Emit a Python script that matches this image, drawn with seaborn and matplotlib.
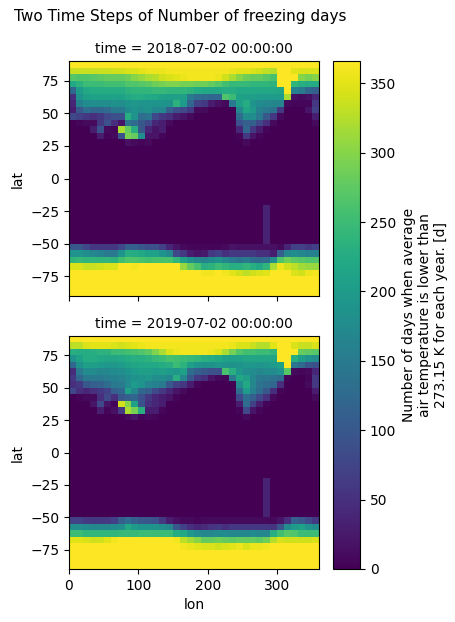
#!/usr/bin/env python3
"""Two time steps of number of freezing days, read off by hand on a 10 x 5 degree grid."""
import numpy as np
import matplotlib
matplotlib.use('Agg')
import matplotlib.pyplot as plt
import seaborn as sns

TITLE = 'Two Time Steps of Number of freezing days'
TIMES = ['2018-07-02 00:00:00', '2019-07-02 00:00:00']
CBAR_LABEL = ('Number of days when average\n'
              'air temperature is lower than\n'
              '273.15 K for each year. [d]')
LON_TICKS = [0, 100, 200, 300]
LAT_TICKS = [75, 50, 25, 0, -25, -50, -75]
CBAR_TICKS = [0, 50, 100, 150, 200, 250, 300, 350]
LON_STEP = 10
LAT_STEP = 5

ZERO = [0] * 36
FULL = [366] * 36
# thin streak near 290E seen in the tropics and south of them
STREAK = [0] * 28 + [35] + [0] * 7

# rows from 90N down to 20N, one value per 10 degrees of longitude
north_2018 = [
    FULL,
    [335, 335, 335, 335, 335, 335, 340, 340, 345, 345, 350, 355, 355, 355, 360, 360, 360, 360, 360, 360, 360, 360, 360, 355, 350, 350, 345, 340, 330, 325, 365, 365, 350, 345, 345, 345],
    [270, 265, 265, 270, 275, 280, 280, 280, 285, 300, 310, 320, 325, 340, 345, 350, 355, 360, 360, 360, 360, 355, 340, 320, 300, 285, 280, 280, 270, 260, 365, 365, 365, 300, 290, 300],
    [220, 235, 250, 250, 250, 255, 255, 255, 265, 265, 270, 275, 285, 290, 295, 295, 290, 290, 285, 285, 280, 270, 255, 245, 245, 245, 240, 240, 240, 235, 365, 365, 240, 230, 225, 225],
    [120, 200, 220, 225, 225, 225, 225, 225, 235, 240, 240, 240, 245, 245, 240, 240, 240, 235, 225, 220, 220, 220, 225, 225, 220, 220, 220, 220, 220, 220, 215, 365, 160, 150, 120, 110],
    [50, 190, 205, 210, 210, 210, 210, 210, 220, 225, 225, 220, 220, 210, 205, 210, 205, 150, 130, 125, 120, 120, 265, 250, 210, 205, 205, 200, 200, 200, 200, 320, 15, 10, 15, 40],
    [40, 160, 175, 180, 180, 180, 185, 180, 190, 195, 190, 190, 190, 190, 185, 235, 200, 120, 70, 60, 30, 15, 10, 150, 205, 225, 190, 175, 170, 170, 165, 10, 5, 5, 5, 60],
    [30, 100, 130, 120, 120, 125, 150, 150, 175, 190, 180, 185, 170, 170, 110, 90, 80, 60, 10, 10, 0, 0, 0, 0, 170, 215, 200, 160, 150, 140, 60, 0, 0, 0, 20, 70],
    [80, 70, 60, 50, 60, 80, 90, 90, 230, 190, 130, 140, 80, 60, 50, 30, 20, 10, 0, 0, 0, 0, 0, 0, 130, 180, 180, 150, 100, 60, 10, 0, 0, 0, 0, 30],
    [0, 5, 10, 10, 60, 90, 50, 20, 140, 130, 100, 80, 40, 30, 10, 0, 0, 0, 0, 0, 0, 0, 0, 0, 90, 110, 110, 80, 50, 10, 0, 0, 0, 0, 0, 10],
    [0, 0, 0, 30, 90, 10, 5, 320, 280, 230, 100, 40, 20, 30, 0, 0, 0, 0, 0, 0, 0, 0, 0, 0, 40, 120, 60, 30, 5, 0, 0, 0, 0, 0, 0, 0],
    [0, 0, 0, 0, 30, 5, 10, 90, 290, 280, 180, 20, 20, 5, 0, 0, 0, 0, 0, 0, 0, 0, 0, 0, 5, 60, 20, 5, 0, 0, 0, 0, 0, 0, 0, 0],
    [0, 0, 0, 0, 0, 0, 0, 0, 15, 10, 5, 10, 0, 0, 0, 0, 0, 0, 0, 0, 0, 0, 0, 0, 0, 10, 0, 0, 0, 0, 0, 0, 0, 0, 0, 0],
    ZERO,
]

north_2019 = [
    FULL,
    [330, 330, 345, 350, 350, 350, 345, 340, 345, 350, 355, 360, 360, 360, 360, 360, 360, 360, 360, 360, 360, 360, 360, 355, 345, 345, 335, 325, 325, 350, 365, 365, 345, 335, 335, 345],
    [230, 225, 225, 230, 235, 235, 250, 250, 255, 260, 265, 275, 295, 320, 345, 355, 360, 360, 360, 360, 355, 345, 320, 290, 265, 255, 255, 250, 250, 240, 365, 365, 365, 280, 275, 270],
    [190, 210, 225, 225, 220, 215, 215, 220, 225, 230, 230, 235, 245, 250, 260, 255, 250, 245, 240, 230, 225, 220, 210, 205, 210, 215, 215, 215, 215, 215, 365, 365, 230, 205, 190, 180],
    [120, 185, 205, 205, 200, 195, 195, 200, 210, 215, 220, 220, 220, 225, 230, 250, 235, 205, 190, 185, 185, 195, 190, 185, 190, 195, 195, 190, 195, 200, 210, 365, 145, 125, 95, 90],
    [45, 150, 175, 175, 170, 170, 175, 180, 190, 200, 205, 205, 200, 205, 200, 195, 210, 130, 110, 100, 90, 90, 260, 230, 195, 180, 175, 170, 175, 175, 190, 270, 10, 5, 10, 40],
    [60, 120, 150, 150, 150, 155, 160, 165, 175, 185, 190, 195, 180, 180, 170, 230, 170, 100, 60, 50, 20, 10, 5, 150, 215, 205, 170, 150, 145, 140, 130, 5, 0, 0, 5, 60],
    [50, 60, 100, 110, 115, 130, 150, 150, 175, 200, 190, 165, 160, 150, 100, 70, 60, 30, 5, 0, 0, 0, 0, 0, 175, 220, 170, 140, 130, 120, 50, 0, 0, 0, 10, 60],
    [80, 50, 40, 50, 60, 70, 110, 120, 210, 170, 120, 110, 80, 60, 40, 20, 10, 0, 0, 0, 0, 0, 0, 0, 130, 200, 160, 130, 100, 50, 5, 0, 0, 0, 0, 30],
    [0, 5, 10, 10, 50, 80, 50, 100, 110, 120, 90, 60, 40, 30, 20, 5, 0, 0, 0, 0, 0, 0, 0, 0, 80, 130, 110, 80, 50, 10, 0, 0, 0, 0, 0, 10],
    [0, 0, 0, 20, 80, 20, 5, 340, 300, 210, 90, 50, 40, 30, 0, 0, 0, 0, 0, 0, 0, 0, 0, 0, 30, 130, 70, 30, 5, 0, 0, 0, 0, 0, 0, 0],
    [0, 0, 0, 0, 30, 5, 15, 60, 320, 290, 230, 30, 30, 5, 0, 0, 0, 0, 0, 0, 0, 0, 0, 0, 5, 80, 20, 5, 0, 0, 0, 0, 0, 0, 0, 0],
    [0, 0, 0, 0, 0, 0, 0, 0, 10, 20, 5, 10, 5, 0, 0, 0, 0, 0, 0, 0, 0, 0, 0, 0, 0, 10, 0, 0, 0, 0, 0, 0, 0, 0, 0, 0],
    ZERO,
]

# rows from 50S down to 90S
south_2018 = [
    [100, 100, 80, 60, 60, 60, 60, 80, 110, 110, 100, 90, 90, 70, 40, 20, 10, 5, 5, 5, 5, 5, 10, 20, 15, 15, 15, 15, 15, 15, 10, 40, 70, 70, 60, 70],
    [190, 190, 180, 170, 160, 150, 150, 190, 230, 225, 220, 210, 210, 190, 170, 80, 60, 30, 20, 25, 60, 70, 50, 60, 60, 60, 60, 50, 50, 30, 110, 170, 180, 170, 160, 160],
    [240, 245, 240, 240, 240, 240, 235, 255, 265, 265, 260, 255, 260, 260, 260, 240, 210, 185, 170, 165, 175, 185, 170, 150, 140, 150, 130, 125, 130, 180, 265, 285, 275, 270, 265, 265],
    [345, 345, 335, 335, 340, 345, 345, 365, 365, 360, 365, 365, 365, 365, 365, 365, 310, 280, 260, 230, 235, 250, 240, 230, 230, 240, 230, 220, 240, 320, 355, 340, 330, 315, 310, 310],
    [365, 365, 365, 365, 365, 365, 365, 365, 365, 365, 365, 365, 365, 365, 365, 365, 365, 365, 365, 360, 360, 365, 360, 350, 340, 330, 340, 345, 350, 365, 365, 365, 345, 340, 355, 360],
    FULL,
    FULL,
    FULL,
]

south_2019 = [
    [70, 70, 60, 60, 60, 60, 70, 110, 130, 110, 100, 95, 90, 60, 30, 15, 10, 10, 5, 10, 10, 10, 10, 10, 10, 10, 10, 10, 10, 10, 20, 50, 110, 100, 80, 60],
    [180, 180, 175, 170, 170, 170, 175, 180, 220, 200, 190, 190, 190, 180, 170, 100, 70, 50, 40, 45, 55, 60, 50, 60, 60, 60, 60, 60, 60, 55, 100, 180, 200, 210, 190, 180],
    [250, 250, 240, 240, 240, 240, 240, 245, 245, 245, 250, 250, 250, 250, 250, 225, 220, 195, 180, 170, 170, 175, 175, 170, 170, 170, 175, 170, 170, 230, 255, 270, 265, 250, 250, 250],
    [350, 350, 345, 340, 340, 350, 360, 365, 365, 365, 365, 365, 365, 365, 365, 360, 330, 315, 300, 280, 280, 285, 280, 275, 280, 280, 280, 275, 285, 325, 345, 340, 340, 340, 340, 345],
    [365, 365, 365, 365, 365, 365, 365, 365, 365, 365, 365, 365, 365, 365, 365, 365, 360, 355, 350, 345, 345, 340, 345, 350, 355, 345, 355, 355, 360, 365, 365, 365, 365, 365, 365, 365],
    FULL,
    FULL,
    FULL,
]

# rows from 20N down to 50S
middle_rows = [ZERO] * 8 + [STREAK] * 6

panels = [north_2018 + middle_rows + south_2018,
          north_2019 + middle_rows + south_2019]

sns.set_style('ticks', rc={'text.color': 'black', 'axes.labelcolor': 'black',
                           'xtick.color': 'black', 'ytick.color': 'black',
                           'axes.edgecolor': 'black'})
plt.rcParams['font.family'] = ['DejaVu Sans']

W, H = 456, 622
fig = plt.figure(figsize=(W / 100, H / 100), dpi=100)


def box(x0, y0, x1, y1):
    return [x0 / W, 1 - y1 / H, (x1 - x0) / W, (y1 - y0) / H]


ax_top = fig.add_axes(box(69, 61, 319, 296))
ax_bot = fig.add_axes(box(69, 336, 319, 569))
cax = fig.add_axes(box(333, 61, 360, 569))

for i, ax in enumerate([ax_top, ax_bot]):
    sns.heatmap(np.array(panels[i]), ax=ax, cmap='viridis', vmin=0, vmax=366,
                cbar=i == 0, cbar_ax=cax if i == 0 else None,
                xticklabels=False, yticklabels=False)
    ax.set_xticks([v / LON_STEP for v in LON_TICKS])
    ax.set_yticks([(90 - v) / LAT_STEP for v in LAT_TICKS])
    ax.set_yticklabels([str(v).replace('-', '\u2212') for v in LAT_TICKS], rotation=0)
    ax.tick_params(length=3.5, width=0.8, labelsize=10, left=True, bottom=True)
    ax.set_ylabel('lat', fontsize=10)
    ax.set_title('time = ' + TIMES[i], fontsize=10, pad=6)
    for spine in ax.spines.values():
        spine.set_visible(True)
        spine.set_linewidth(0.8)

ax_top.set_xticklabels([])
ax_bot.set_xticklabels([str(v) for v in LON_TICKS], rotation=0)
ax_bot.set_xlabel('lon', fontsize=10)

cbar = ax_top.collections[0].colorbar
cbar.set_ticks(CBAR_TICKS)
cbar.set_ticklabels([str(v) for v in CBAR_TICKS])
cbar.ax.tick_params(length=3.5, width=0.8, labelsize=10)
cbar.outline.set_visible(True)
cbar.outline.set_linewidth(0.8)
cbar.set_label(CBAR_LABEL, fontsize=10)

fig.suptitle(TITLE, x=180 / W, y=1 - 17 / H, va='center', fontsize=11)

fig.savefig('out.png', dpi=100)
print('Done')
